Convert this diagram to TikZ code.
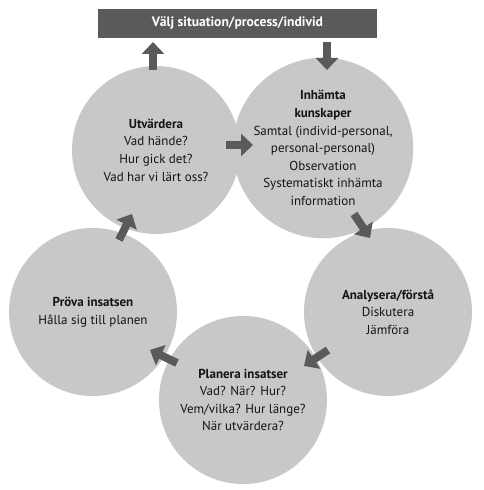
\documentclass[tikz,border=0pt]{standalone}
\usepackage{fontspec}
\setmainfont{PT Sans}
\usetikzlibrary{arrows.meta}
\definecolor{circ}{HTML}{C8C8C8}
\definecolor{dark}{HTML}{5A5A5A}
\definecolor{txt}{HTML}{141414}
\tikzset{
  stage/.style={circle, fill=circ, minimum size=168pt, inner sep=0pt, align=center, text=txt, font=\fontsize{13}{17.6}\selectfont},
  blockarrow/.style={draw=dark, line width=8pt, -{Triangle[width=22pt,length=12pt]}, color=dark},
  topbox/.style={fill=dark, text=white, minimum width=279pt, minimum height=29pt, inner sep=0pt, font=\fontsize{13.6}{15}\selectfont\bfseries}
}
\begin{document}
\begin{tikzpicture}[x=1pt,y=1pt]
\useasboundingbox (0,0) rectangle (483,490);
\node[topbox] (top) at (237.5,466.5) {Välj situation/process/individ};
\node[stage] (utv) at (156,340) {\textbf{Utvärdera}\\Vad hände?\\Hur gick det?\\Vad har vi lärt oss?};
\node[stage] (inh) at (323,342) {\textbf{Inhämta}\\\textbf{kunskaper}\\Samtal (individ-personal,\\personal-personal)\\Observation\\Systematiskt inhämta\\information};
\node[stage] (ana) at (388,178) {\textbf{Analysera/förstå}\\Diskutera\\Jämföra};
\node[stage] (pla) at (243,90) {\textbf{Planera insatser}\\Vad? När? Hur?\\Vem/vilka? Hur länge?\\När utvärdera?};
\node[stage] (pro) at (93,178) {\textbf{Pröva insatsen}\\Hålla sig till planen};
% arrow end points
\coordinate (a1s) at (153,420); \coordinate (a1e) at (153,448);
\coordinate (a2s) at (327,448); \coordinate (a2e) at (327,420);
\coordinate (a3s) at (226,345); \coordinate (a3e) at (253,345);
\coordinate (a4s) at (354,276); \coordinate (a4e) at (370,252);
\coordinate (a5s) at (328,140); \coordinate (a5e) at (304,124);
\coordinate (a6s) at (177,127); \coordinate (a6e) at (150,140);
\coordinate (a7s) at (119,250); \coordinate (a7e) at (132,276);
\draw[blockarrow] (a1s) -- (a1e);
\draw[blockarrow] (a2s) -- (a2e);
\draw[blockarrow] (a3s) -- (a3e);
\draw[blockarrow] (a4s) -- (a4e);
\draw[blockarrow] (a5s) -- (a5e);
\draw[blockarrow] (a6s) -- (a6e);
\draw[blockarrow] (a7s) -- (a7e);
\end{tikzpicture}
\end{document}
